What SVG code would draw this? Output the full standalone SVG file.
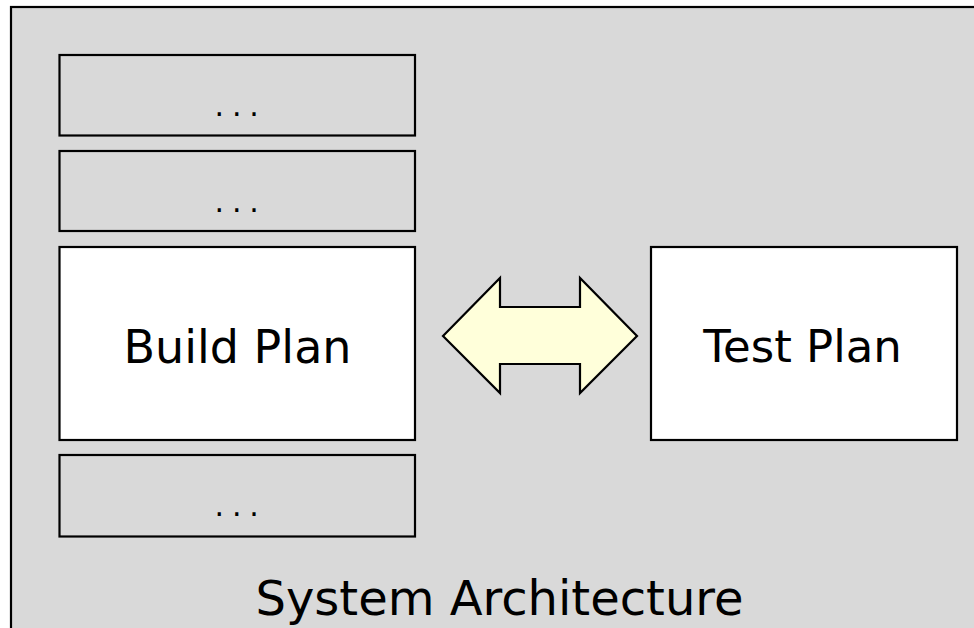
<svg xmlns="http://www.w3.org/2000/svg" width="974" height="628" viewBox="0 0 974 628">
<style>
.box{stroke:#000;stroke-width:2.2}
.g{fill:#D9D9D9}
.w{fill:#FFFFFF}
.lbl{font-family:"DejaVu Sans","Liberation Sans",sans-serif;fill:#000;text-anchor:middle}
.dots{font-family:"DejaVu Sans","Liberation Sans",sans-serif;font-size:30px;fill:#000;text-anchor:middle}
</style>
<rect width="974" height="628" fill="#FFFFFF"/>
<g id="system-architecture">
<rect x="11" y="7" width="1000" height="700" fill="#D9D9D9" stroke="#000" stroke-width="2.2"/>
<text class="lbl" x="499.5" y="615" font-size="48">System Architecture</text>
</g>
<g id="box-1">
<rect class="box g" x="59.5" y="55" width="355.5" height="80.5"/>
<text class="dots" x="219.3 236.7 254" y="116">...</text>
</g>
<g id="box-2">
<rect class="box g" x="59.5" y="151" width="355.5" height="80"/>
<text class="dots" x="219.3 236.7 254" y="212">...</text>
</g>
<g id="build-plan">
<rect class="box w" x="59.5" y="247" width="355.5" height="193"/>
<text class="lbl" x="237.5" y="363" font-size="46">Build Plan</text>
</g>
<g id="box-4">
<rect class="box g" x="59.5" y="455" width="355.5" height="81.5"/>
<text class="dots" x="219.3 236.7 254" y="516">...</text>
</g>
<g id="test-plan">
<rect class="box w" x="651" y="247" width="306" height="193"/>
<text class="lbl" x="802.5" y="362" font-size="45">Test Plan</text>
</g>
<g id="connectors">
<polygon points="443,336 500,278 500,307 580,307 580,278 637,336 580,393 580,364 500,364 500,393" fill="#FFFFDA" stroke="#000" stroke-width="2.2" stroke-linejoin="miter"/>
</g>
</svg>
